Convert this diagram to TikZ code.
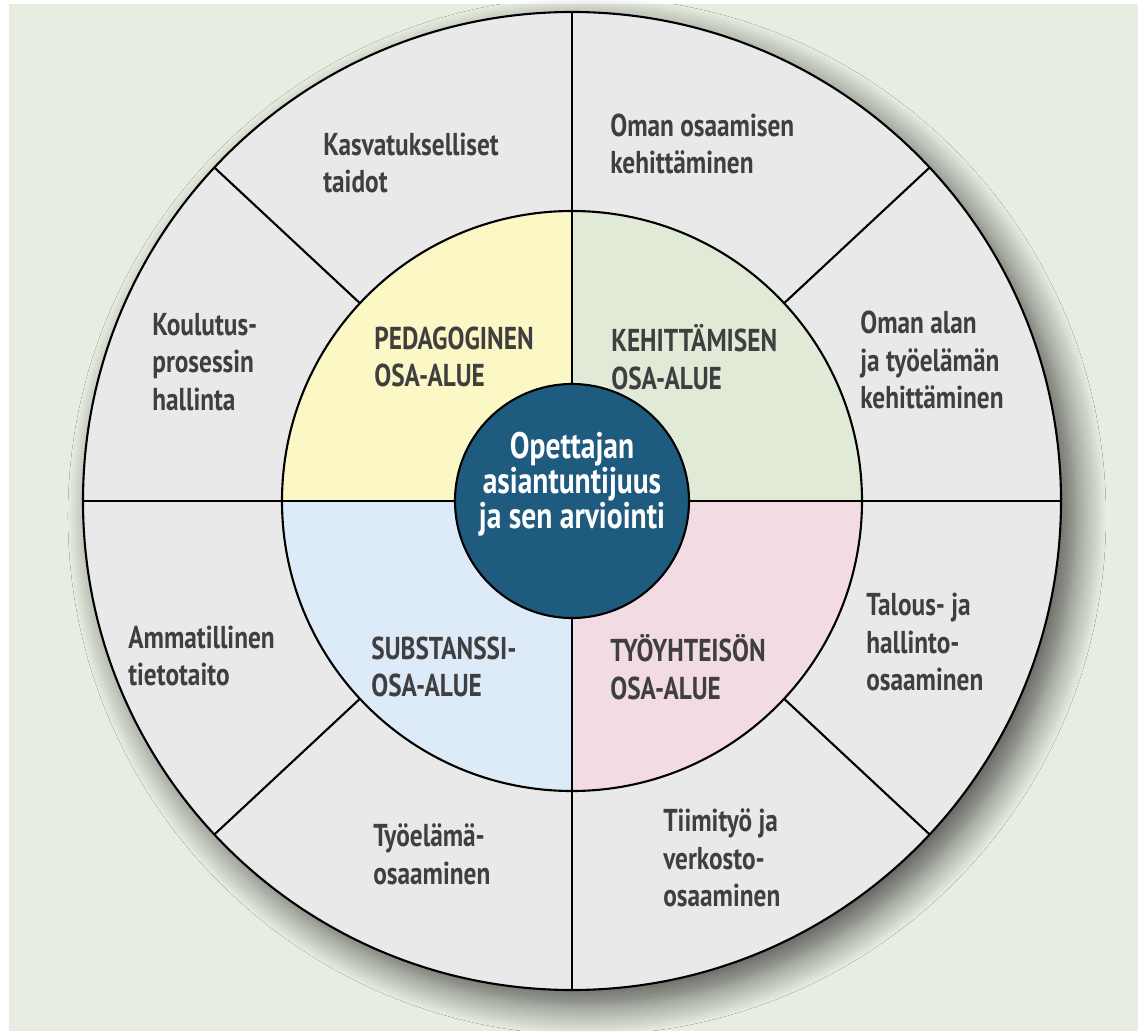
\documentclass[tikz,border=0pt]{standalone}
\usepackage{fontspec}
\setmainfont{PT Sans}[FakeStretch=0.8]
\usetikzlibrary{shadows.blur}
\definecolor{PageGreen}{HTML}{E7EDE0}
\definecolor{RingGray}{HTML}{E9E9E9}
\definecolor{PedYellow}{HTML}{FCF8C6}
\definecolor{KehGreen}{HTML}{E1E9D7}
\definecolor{SubBlue}{HTML}{DDEBF8}
\definecolor{TyoPink}{HTML}{F3DBE3}
\definecolor{HubBlue}{HTML}{1E5B7F}
\definecolor{LabelGray}{HTML}{3F3F3F}
\tikzset{ringtext/.style={anchor=west,align=left,inner sep=0pt,text=LabelGray,font=\bfseries\fontsize{18}{21.5}\selectfont},
  hubtext/.style={align=center,inner sep=0pt,text=white,font=\bfseries\fontsize{21}{20}\selectfont},
  rim/.style={line width=1.2pt,black}}

\begin{document}
\begin{tikzpicture}[x=0.02cm,y=0.02cm]
\useasboundingbox (-572,-530) rectangle (566,501);
\fill[PageGreen] (-563,-530) rectangle (566,497);
% outer ring with its drop shadow
\fill[RingGray,blur shadow={shadow xshift=0.3cm,shadow yshift=-0.3cm,shadow blur radius=0.6cm,shadow blur steps=14,shadow opacity=65}] (0,0) circle[radius=489];
% the four areas
\fill[PedYellow] (0,0) -- (180:290) arc[start angle=180,end angle=90,radius=290] -- cycle;
\fill[KehGreen] (0,0) -- (90:290) arc[start angle=90,end angle=0,radius=290] -- cycle;
\fill[SubBlue] (0,0) -- (180:290) arc[start angle=180,end angle=270,radius=290] -- cycle;
\fill[TyoPink] (0,0) -- (270:290) arc[start angle=270,end angle=360,radius=290] -- cycle;
\draw[rim] (0,0) circle[radius=290];
\draw[rim] (0,0) circle[radius=489];
\draw[rim] (-489,0) -- (489,0);
\draw[rim] (0,-489) -- (0,489);
\foreach \a in {43,137,223,317} \draw[rim] (\a:290) -- (\a:489);
\fill[HubBlue,draw=black,line width=1.2pt] (0,0) circle[radius=117];
% ring labels
\node[ringtext] (kasv) at (-249,338) {Kasvatukselliset\\taidot};
\node[ringtext] (oman) at (38,357) {Oman osaamisen\\kehittäminen};
\node[ringtext] (koul) at (-420,139) {Koulutus-\\prosessin\\hallinta};
\node[ringtext] (alan) at (288,141) {Oman alan\\ja työelämän\\kehittäminen};
\node[ringtext] (amma) at (-444,-155) {Ammatillinen\\tietotaito};
\node[ringtext] (talo) at (294,-141) {Talous- ja\\hallinto-\\osaaminen};
\node[ringtext] (tyoe) at (-199,-353) {Työelämä-\\osaaminen};
\node[ringtext] (tiim) at (91,-357) {Tiimityö ja\\verkosto-\\osaaminen};
% area labels
\node[ringtext] (peda) at (-198,144) {PEDAGOGINEN\\OSA-ALUE};
\node[ringtext] (kehi) at (39,144) {KEHITTÄMISEN\\OSA-ALUE};
\node[ringtext] (subs) at (-201,-166) {SUBSTANSSI-\\OSA-ALUE};
\node[ringtext] (tyoy) at (38,-166) {TYÖYHTEISÖN\\OSA-ALUE};
\node[hubtext] (hub) at (0,17) {Opettajan\\asiantuntijuus\\ja sen arviointi};
\end{tikzpicture}
\end{document}
